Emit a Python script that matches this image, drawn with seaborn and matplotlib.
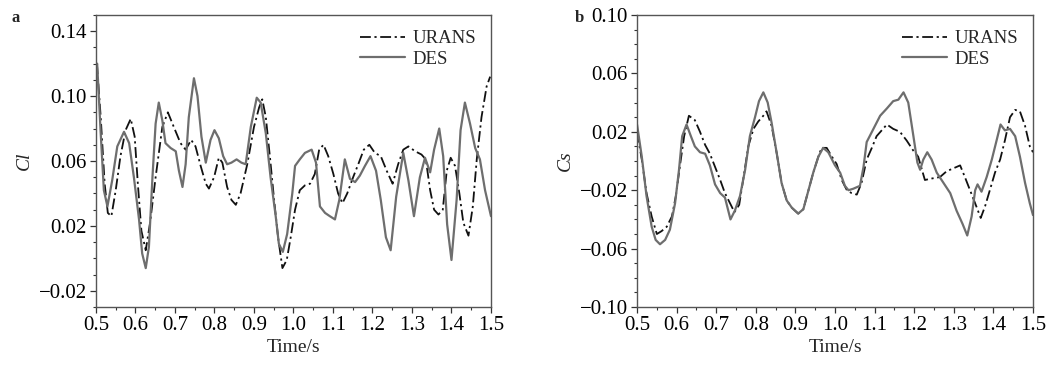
import numpy as np
import pandas as pd
import matplotlib
matplotlib.use("Agg")
import matplotlib.pyplot as plt
import seaborn as sns
from matplotlib.ticker import MultipleLocator, FixedLocator

# Panel a: Cl
t_cl_urans = [0.500, 0.503, 0.512, 0.522, 0.530, 0.539, 0.550, 0.562, 0.575, 0.588, 0.598,
              0.606, 0.615, 0.626, 0.637, 0.651, 0.668, 0.682, 0.697, 0.714, 0.727, 0.741,
              0.752, 0.765, 0.778, 0.786, 0.799, 0.811, 0.820, 0.832, 0.843, 0.854, 0.866,
              0.883, 0.900, 0.913, 0.921, 0.930, 0.941, 0.951, 0.961, 0.972, 0.983, 0.993,
              1.004, 1.016, 1.029, 1.042, 1.054, 1.065, 1.076, 1.088, 1.101, 1.113, 1.124,
              1.136, 1.151, 1.164, 1.178, 1.192, 1.206, 1.221, 1.236, 1.251, 1.265, 1.278,
              1.291, 1.308, 1.324, 1.335, 1.346, 1.356, 1.367, 1.378, 1.388, 1.398, 1.409,
              1.420, 1.430, 1.443, 1.454, 1.464, 1.476, 1.489, 1.498]
cl_urans = [0.120, 0.118, 0.087, 0.046, 0.028, 0.026, 0.042, 0.063, 0.079, 0.086, 0.075,
            0.046, 0.017, 0.005, 0.022, 0.050, 0.081, 0.090, 0.081, 0.071, 0.067, 0.073,
            0.069, 0.057, 0.046, 0.043, 0.050, 0.062, 0.059, 0.044, 0.036, 0.033, 0.040,
            0.058, 0.081, 0.093, 0.098, 0.087, 0.061, 0.036, 0.013, -0.006, -0.001, 0.013,
            0.030, 0.042, 0.045, 0.046, 0.052, 0.067, 0.070, 0.063, 0.052, 0.040, 0.034,
            0.040, 0.050, 0.058, 0.067, 0.070, 0.065, 0.063, 0.054, 0.046, 0.058, 0.067,
            0.069, 0.066, 0.064, 0.061, 0.042, 0.030, 0.027, 0.030, 0.054, 0.062, 0.057,
            0.040, 0.022, 0.014, 0.032, 0.061, 0.087, 0.106, 0.112]

t_cl_des = [0.500, 0.503, 0.512, 0.520, 0.529, 0.541, 0.554, 0.571, 0.584, 0.596, 0.609,
            0.617, 0.626, 0.634, 0.643, 0.651, 0.659, 0.668, 0.676, 0.689, 0.702, 0.710,
            0.719, 0.727, 0.735, 0.748, 0.757, 0.767, 0.778, 0.790, 0.800, 0.811, 0.822,
            0.832, 0.843, 0.856, 0.868, 0.879, 0.892, 0.907, 0.917, 0.930, 0.942, 0.955,
            0.963, 0.973, 0.984, 0.997, 1.004, 1.016, 1.029, 1.046, 1.057, 1.067, 1.080,
            1.092, 1.105, 1.116, 1.130, 1.143, 1.156, 1.168, 1.181, 1.195, 1.209, 1.221,
            1.234, 1.246, 1.260, 1.278, 1.291, 1.305, 1.320, 1.333, 1.346, 1.356, 1.369,
            1.379, 1.389, 1.400, 1.413, 1.423, 1.434, 1.447, 1.460, 1.472, 1.485, 1.500]
cl_des = [0.118, 0.120, 0.077, 0.042, 0.032, 0.048, 0.069, 0.078, 0.071, 0.050, 0.024,
          0.003, -0.006, 0.007, 0.050, 0.083, 0.096, 0.085, 0.071, 0.068, 0.066, 0.054,
          0.044, 0.058, 0.087, 0.111, 0.100, 0.075, 0.059, 0.073, 0.079, 0.074, 0.063,
          0.058, 0.059, 0.061, 0.059, 0.058, 0.081, 0.099, 0.096, 0.077, 0.050, 0.026,
          0.009, 0.004, 0.015, 0.040, 0.057, 0.061, 0.065, 0.067, 0.059, 0.032, 0.028,
          0.026, 0.024, 0.036, 0.061, 0.049, 0.047, 0.051, 0.057, 0.063, 0.054, 0.036,
          0.013, 0.005, 0.038, 0.065, 0.048, 0.026, 0.050, 0.062, 0.053, 0.067, 0.080,
          0.063, 0.021, -0.001, 0.036, 0.079, 0.096, 0.083, 0.068, 0.061, 0.042, 0.026]

# Panel b: Cs
t_cs_urans = [0.500, 0.502, 0.512, 0.524, 0.537, 0.550, 0.562, 0.575, 0.588, 0.598, 0.609,
              0.619, 0.631, 0.646, 0.659, 0.672, 0.684, 0.697, 0.710, 0.722, 0.735, 0.746,
              0.758, 0.768, 0.781, 0.794, 0.806, 0.819, 0.827, 0.840, 0.853, 0.865, 0.878,
              0.891, 0.907, 0.920, 0.933, 0.945, 0.958, 0.966, 0.979, 0.992, 1.004, 1.017,
              1.030, 1.042, 1.055, 1.067, 1.080, 1.093, 1.105, 1.118, 1.131, 1.147, 1.164,
              1.181, 1.198, 1.210, 1.227, 1.244, 1.265, 1.282, 1.299, 1.316, 1.328, 1.341,
              1.354, 1.368, 1.379, 1.391, 1.404, 1.417, 1.429, 1.442, 1.455, 1.467, 1.480,
              1.492, 1.500]
cs_urans = [0.020, 0.017, 0.001, -0.022, -0.038, -0.050, -0.048, -0.045, -0.038, -0.024, -0.002,
            0.017, 0.031, 0.028, 0.020, 0.011, 0.005, -0.004, -0.013, -0.022, -0.029, -0.035,
            -0.030, -0.013, 0.010, 0.022, 0.027, 0.031, 0.034, 0.024, 0.005, -0.015, -0.027,
            -0.032, -0.036, -0.033, -0.020, -0.008, 0.003, 0.009, 0.009, 0.003, -0.002, -0.013,
            -0.020, -0.022, -0.023, -0.015, 0.001, 0.009, 0.017, 0.021, 0.025, 0.022, 0.020,
            0.014, 0.007, 0.003, -0.013, -0.012, -0.011, -0.007, -0.005, -0.003, -0.011, -0.020,
            -0.029, -0.039, -0.031, -0.020, -0.008, 0.001, 0.014, 0.030, 0.035, 0.034, 0.024,
            0.010, 0.006]

t_cs_des = [0.500, 0.512, 0.524, 0.537, 0.547, 0.558, 0.571, 0.583, 0.596, 0.606, 0.614,
            0.625, 0.636, 0.646, 0.659, 0.672, 0.684, 0.697, 0.710, 0.722, 0.736, 0.747,
            0.760, 0.773, 0.785, 0.798, 0.808, 0.819, 0.830, 0.840, 0.853, 0.865, 0.878,
            0.891, 0.907, 0.920, 0.933, 0.945, 0.958, 0.970, 0.983, 1.000, 1.013, 1.025,
            1.034, 1.046, 1.063, 1.072, 1.080, 1.097, 1.114, 1.131, 1.147, 1.160, 1.173,
            1.185, 1.198, 1.208, 1.215, 1.223, 1.233, 1.244, 1.257, 1.274, 1.291, 1.307,
            1.322, 1.334, 1.345, 1.354, 1.360, 1.370, 1.383, 1.396, 1.408, 1.418, 1.429,
            1.442, 1.455, 1.467, 1.480, 1.492, 1.500]
cs_des = [0.025, 0.003, -0.024, -0.045, -0.054, -0.057, -0.054, -0.047, -0.029, -0.006, 0.017,
          0.025, 0.017, 0.010, 0.006, 0.005, -0.003, -0.016, -0.022, -0.025, -0.040, -0.034,
          -0.024, -0.006, 0.017, 0.030, 0.041, 0.047, 0.040, 0.026, 0.005, -0.015, -0.027,
          -0.032, -0.036, -0.033, -0.020, -0.008, 0.003, 0.009, 0.006, -0.003, -0.008, -0.017,
          -0.020, -0.019, -0.017, -0.004, 0.013, 0.022, 0.031, 0.036, 0.041, 0.042, 0.047,
          0.040, 0.017, -0.001, -0.006, 0.001, 0.006, 0.001, -0.008, -0.015, -0.022, -0.034,
          -0.043, -0.051, -0.038, -0.020, -0.016, -0.021, -0.011, 0.001, 0.014, 0.025, 0.021,
          0.022, 0.017, 0.003, -0.015, -0.029, -0.037]

x_ticks = [0.5, 0.6, 0.7, 0.8, 0.9, 1.0, 1.1, 1.2, 1.3, 1.4, 1.5]
cl_ticks = [-0.02, 0.02, 0.06, 0.10, 0.14]
cs_ticks = [-0.10, -0.06, -0.02, 0.02, 0.06, 0.10]

sns.set_style("ticks")
plt.rcParams['font.family'] = ['Liberation Serif', 'DejaVu Serif']

fig = plt.figure(figsize=(10.5, 3.74), dpi=100)
ax_a = fig.add_axes([0.0914, 0.179, 0.3762, 0.781])
ax_b = fig.add_axes([0.6067, 0.179, 0.3771, 0.781])

color_urans = '#111111'
color_des = '#6e6e6e'
guion_punto = [6, 2, 1.2, 2]


def dibujar_panel(ax, t_u, v_u, t_d, v_d, ylim, yticks, ylabel, letra, letra_x):
    sns.lineplot(x=t_u, y=v_u, ax=ax, color=color_urans, lw=1.3, label='URANS', sort=False)
    sns.lineplot(x=t_d, y=v_d, ax=ax, color=color_des, lw=1.6, label='DES', sort=False)
    ax.lines[0].set_dashes(guion_punto)
    ax.set_xlim(0.5, 1.5)
    ax.set_ylim(*ylim)
    ax.xaxis.set_major_locator(FixedLocator(x_ticks))
    ax.xaxis.set_minor_locator(MultipleLocator(0.05))
    ax.yaxis.set_major_locator(FixedLocator(yticks))
    ax.yaxis.set_minor_locator(MultipleLocator(0.01))
    ax.set_xticklabels([f'{v:.1f}' for v in x_ticks])
    ax.set_yticklabels([f'{v:.2f}'.replace('-', '\u2212') for v in yticks])
    ax.tick_params(axis='both', which='major', direction='out', length=4.5, width=0.9,
                   labelsize=15, colors='#333333', labelcolor='black', pad=2)
    ax.tick_params(axis='both', which='minor', direction='out', length=2.5, width=0.8,
                   colors='#333333')
    for s in ax.spines.values():
        s.set_visible(True)
        s.set_color('#555555')
        s.set_linewidth(1.0)
    ax.set_xlabel('Time/s', fontsize=14, labelpad=3)
    ax.set_ylabel(ylabel, fontsize=14, style='italic', labelpad=4)
    leg = ax.legend(loc='upper right', frameon=False, fontsize=13.5, handlelength=2.4,
                    handletextpad=0.4, labelspacing=0.2, borderaxespad=0.4)
    leg.get_lines()[0].set_dashes(guion_punto)
    ax.text(letra_x, 0.976, letra, transform=ax.transAxes, fontsize=12, fontweight='bold',
            va='baseline', ha='left')


dibujar_panel(ax_a, t_cl_urans, cl_urans, t_cl_des, cl_des, (-0.03, 0.15), cl_ticks, 'Cl', 'a', -0.213)
dibujar_panel(ax_b, t_cs_urans, cs_urans, t_cs_des, cs_des, (-0.10, 0.10), cs_ticks, 'Cs', 'b', -0.157)

fig.savefig('out.png', dpi=100)
